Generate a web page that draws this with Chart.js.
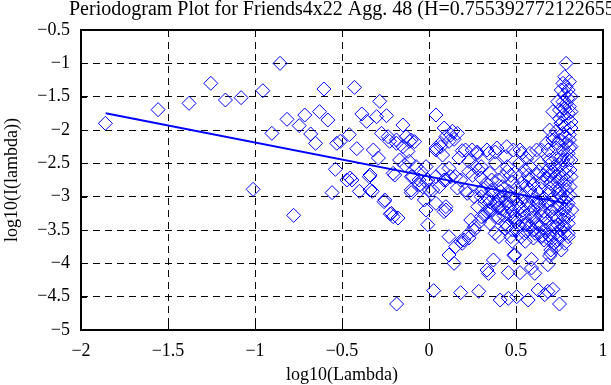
<!DOCTYPE html>
<html>
<head>
<meta charset="utf-8">
<script src="https://cdn.jsdelivr.net/npm/chart.js@4"></script>
<style>
  html, body { margin: 0; padding: 0; background: #fff; }
</style>
</head>
<body>
<canvas id="pgram" width="611" height="385"></canvas>
<script>
// periodogram points, log10(lambda) vs log10(I(lambda))
const logLambda = [
  -1.86, -1.557, -1.379, -1.254, -1.17, -1.08, -0.955, -0.856, -1.011, -0.903,
  -0.816, -0.778, -0.746, -0.714, -0.68, -0.652, -0.629, -0.604, -0.581, -0.557,
  -0.538, -0.53, -0.51, -0.458, -0.428, -0.415, -0.472, -0.453, -0.40, -0.386,
  -0.358, -0.343, -0.339, -0.326, -0.32, -0.301, -0.291, -0.283, -0.273, -0.258,
  -0.244, -0.235, -0.222, -0.216, -0.206, -0.206, -0.197, -0.187, -0.186, -0.178,
  -0.169, -0.15, -0.15, -0.14, -0.121, -0.114, -0.112, -0.102, -0.102, -0.074,
  -0.057, -0.036, -0.017, -0.017, -0.007, -0.007, 0.021, 0.027, 0.04, 0.04,
  0.04, 0.04, 0.068, 0.068, 0.078, 0.078, 0.087, 0.087, 0.087, 0.097,
  0.097, 0.097, 0.115, 0.115, 0.115, 0.115, 0.125, 0.135, 0.144, 0.144,
  0.153, 0.153, 0.163, 0.163, 0.182, 0.182, 0.182, 0.191, 0.191, 0.21,
  0.229, 0.229,
  // around the fit line, -0.3 .. 0.15
  -0.226, -0.187, -0.131, -0.102, -0.083, -0.045, -0.093, -0.055, -0.017, 0.002,
  0.04, 0.059, 0.097, 0.125, -0.102, -0.027, -0.254, -0.339, -0.443,
  // band near -2.3
  0.248, 0.277, 0.333, 0.381, 0.438, 0.485, 0.532, 0.561, 0.618, 0.267,
  0.286, 0.21, 0.277, 0.343, 0.39, 0.447, 0.523, 0.58, 0.172, 0.229,
  // upper right tail
  0.788, 0.77, 0.788, 0.807, 0.76, 0.778, 0.797, 0.816, 0.77, 0.74,
  0.712, 0.75, 0.778, 0.807, 0.816, 0.75, 0.797, 0.816, 0.76, 0.778,
  0.816, 0.693, 0.731, 0.769, 0.807, 0.712, 0.674, 0.712, 0.75, 0.788,
  0.807, 0.816, 0.646, 0.684, 0.731, 0.769, 0.807, 0.693, 0.731, 0.769,
  0.797, 0.816, 0.684, 0.712, 0.75, 0.788, 0.816, 0.70, 0.74, 0.78,
  0.81,
  0.78, 0.80, 0.79, 0.77, 0.80, 0.78, 0.80, 0.76, 0.79, 0.81,
  0.75, 0.79, 0.80, 0.78, 0.72, 0.74, 0.76,
  // dense core
  0.25, 0.30, 0.35, 0.40, 0.45, 0.48, 0.52, 0.55, 0.58, 0.62,
  0.65, 0.68, 0.33, 0.42, 0.50,
  0.22, 0.26, 0.30, 0.34, 0.37, 0.40, 0.43, 0.46, 0.49, 0.52,
  0.55, 0.58, 0.60, 0.63, 0.66, 0.69, 0.72, 0.75, 0.78, 0.81,
  0.28, 0.32, 0.36, 0.39, 0.42, 0.45, 0.48, 0.51, 0.54, 0.57,
  0.60, 0.63, 0.66, 0.69, 0.72, 0.75, 0.78, 0.80,
  0.24, 0.30, 0.35, 0.40, 0.44, 0.47, 0.50, 0.53, 0.56, 0.59,
  0.62, 0.65, 0.68, 0.71, 0.74, 0.77,
  0.26, 0.38, 0.50, 0.53, 0.56, 0.60, 0.63, 0.66, 0.69, 0.72,
  0.75, 0.78, 0.47, 0.44,
  0.20, 0.23, 0.26, 0.29, 0.32, 0.35, 0.38, 0.41,
  0.30, 0.35, 0.40, 0.45, 0.50, 0.55, 0.60, 0.65, 0.70, 0.73,
  0.72, 0.76, 0.80, 0.74, 0.78, 0.70, 0.76, 0.80, 0.82,
  0.31, 0.36, 0.41, 0.44, 0.47, 0.53, 0.56, 0.59, 0.62, 0.64,
  0.67, 0.70, 0.73, 0.76, 0.79,
  0.33, 0.38, 0.43, 0.46, 0.49, 0.52, 0.55, 0.58, 0.61, 0.64,
  0.67, 0.70, 0.73, 0.76, 0.79,
  0.45, 0.48, 0.52, 0.55, 0.58, 0.61, 0.64, 0.67, 0.70, 0.73,
  0.77, 0.80,
  0.36, 0.43, 0.47, 0.53, 0.57, 0.60, 0.63, 0.66, 0.70, 0.73,
  0.76, 0.79,
  0.30, 0.38, 0.45, 0.52, 0.58, 0.64, 0.70, 0.75,
  // lower scatter
  0.37, 0.333, 0.342, 0.456, 0.523, 0.49, 0.49, 0.589, 0.608, 0.589,
  0.693, 0.683, 0.70, 0.409, 0.456, 0.504, 0.57, 0.627, 0.683, 0.712,
  0.75, 0.665, 0.286, 0.402, 0.478, 0.553, 0.648, 0.693, 0.778
];
const logPgram = [
  -1.90, -1.695, -1.60, -1.30, -1.55, -1.515, -1.41, -1.0, -2.89, -2.05,
  -1.84, -3.28, -1.935, -1.775, -2.06, -2.20, -1.725, -1.385, -1.85, -2.94,
  -2.59, -2.20, -2.17, -2.07, -1.36, -2.28, -2.75, -2.72, -2.92, -1.76,
  -1.87, -2.70, -2.675, -2.92, -2.30, -1.80, -2.42, -1.57, -2.05, -3.075,
  -1.785, -2.10, -3.26, -3.25, -3.30, -2.65, -2.675, -2.20, -4.61, -3.32,
  -2.45, -1.925, -2.25, -2.525, -2.32, -2.47, -2.17, -2.94, -2.70, -2.55,
  -2.75, -2.85, -2.55, -3.20, -2.75, -3.42, -2.90, -4.41, -1.775, -3.10,
  -2.30, -2.27, -2.25, -2.20, -2.375, -2.60, -1.97, -2.75, -3.225, -2.10,
  -3.15, -3.20, -2.17, -2.575, -3.60, -3.875, -2.075, -2.02, -2.14, -4.0,
  -2.70, -3.75, -2.05, -2.87, -2.75, -4.44, -3.67, -2.31, -3.70, -2.90,
  -2.625, -3.62,
  -2.17, -2.15, -2.10, -2.15, -2.175, -2.625, -2.70, -2.825, -2.775, -2.90,
  -2.70, -2.85, -2.75, -2.70, -2.90, -3.05, -3.05, -2.90, -2.75,
  -2.30, -2.35, -2.30, -2.33, -2.40, -2.30, -2.35, -2.43, -2.30, -2.55,
  -2.60, -2.30, -2.33, -2.35, -2.27, -2.25, -2.30, -2.35, -2.42, -2.47,
  -1.0, -1.30, -1.35, -1.275, -1.40, -1.475, -1.525, -1.50, -1.575, -1.575,
  -1.725, -1.70, -1.675, -1.65, -1.725, -1.83, -1.83, -1.88, -1.90, -1.95,
  -1.97, -2.0, -2.02, -2.05, -2.07, -2.10, -2.20, -2.15, -2.15, -2.20,
  -2.15, -2.25, -2.30, -2.30, -2.27, -2.30, -2.27, -2.45, -2.43, -2.45,
  -2.45, -2.45, -2.60, -2.62, -2.65, -2.66, -2.70, -2.80, -2.78, -2.82,
  -2.85,
  -1.20, -1.40, -1.60, -1.78, -1.75, -2.10, -2.35, -2.40, -2.55, -2.60,
  -2.90, -3.00, -3.60, -3.45, -2.55, -2.20, -1.90,
  -2.68, -2.72, -2.65, -2.75, -2.62, -2.78, -2.70, -2.60, -2.75, -2.68,
  -2.78, -2.72, -2.80, -2.85, -2.88,
  -2.95, -3.0, -2.92, -3.02, -2.95, -3.05, -2.98, -2.92, -3.03, -2.95,
  -3.0, -2.90, -3.05, -2.95, -3.02, -2.93, -3.0, -2.95, -3.05, -2.98,
  -3.15, -3.10, -3.20, -3.12, -3.18, -3.10, -3.22, -3.12, -3.20, -3.10,
  -3.18, -3.12, -3.22, -3.10, -3.18, -3.12, -3.20, -3.10,
  -3.35, -3.30, -3.40, -3.32, -3.40, -3.30, -3.38, -3.28, -3.42, -3.32,
  -3.40, -3.30, -3.38, -3.30, -3.42, -3.35,
  -3.50, -3.55, -3.50, -3.60, -3.52, -3.62, -3.55, -3.65, -3.58, -3.70,
  -3.60, -3.55, -3.60, -3.48,
  -3.65, -3.55, -3.45, -3.38, -3.28, -3.20, -3.10, -3.02,
  -3.0, -3.08, -3.17, -3.25, -3.33, -3.42, -3.50, -3.58, -3.67, -3.75,
  -3.45, -3.50, -3.40, -3.65, -3.70, -3.80, -3.80, -3.30, -3.20,
  -2.88, -2.90, -2.92, -3.05, -3.00, -3.07, -2.85, -2.98, -3.08, -2.88,
  -3.10, -3.05, -2.88, -3.00, -2.90,
  -3.22, -3.30, -3.28, -3.15, -3.30, -3.18, -3.30, -3.25, -3.30, -3.20,
  -3.32, -3.22, -3.30, -3.25, -3.15,
  -3.45, -3.50, -3.45, -3.55, -3.45, -3.55, -3.45, -3.50, -3.45, -3.55,
  -3.45, -3.55,
  -2.75, -2.70, -2.68, -2.80, -2.68, -2.82, -2.62, -2.68, -2.68, -2.70,
  -2.72, -2.75,
  -2.55, -2.50, -2.55, -2.50, -2.55, -2.50, -2.50, -2.52,
  -3.95, -4.10, -4.15, -4.14, -4.14, -3.885, -3.87, -3.94, -4.15, -4.07,
  -3.89, -4.02, -3.85, -4.55, -4.525, -4.50, -4.55, -4.40, -4.42, -4.39,
  -4.61, -4.47, -4.42, -3.60, -3.67, -3.67, -3.60, -3.60, -3.30
];

// least squares fit line end points
const fitX = [-1.858, 0.8];
const fitY = [-1.75, -3.108];

const xTicks = [-2, -1.5, -1, -0.5, 0, 0.5, 1];
const yTicks = [-5, -4.5, -4, -3.5, -3, -2.5, -2, -1.5, -1, -0.5];

const titleText = 'Periodogram Plot for Friends4x22 Agg. 48 (H=0.755392772122655)';
const SERIF = "'Liberation Serif', 'Times New Roman', serif";

function fmt(v) {
  return v < 0 ? '\u2212' + String(-v) : String(v);
}

// box, inward ticks on all 4 sides, and the title
const framePlugin = {
  id: 'frame',
  afterDatasetsDraw(chart) {
    const ctx = chart.ctx;
    const a = chart.chartArea;
    const xs = chart.scales.x, ys = chart.scales.y;
    ctx.save();
    ctx.strokeStyle = '#000';
    ctx.lineWidth = 1;
    ctx.beginPath();
    xTicks.forEach(t => {
      const px = Math.round(xs.getPixelForValue(t)) + 0.5;
      ctx.moveTo(px, a.bottom); ctx.lineTo(px, a.bottom - 6);
      ctx.moveTo(px, a.top); ctx.lineTo(px, a.top + 6);
    });
    yTicks.forEach(t => {
      const py = Math.round(ys.getPixelForValue(t)) + 0.5;
      ctx.moveTo(a.left, py); ctx.lineTo(a.left + 6, py);
      ctx.moveTo(a.right, py); ctx.lineTo(a.right - 6, py);
    });
    ctx.stroke();
    ctx.lineWidth = 2;
    ctx.strokeRect(a.left, a.top, a.right - a.left, a.bottom - a.top);
    ctx.restore();
  },
  afterDraw(chart) {
    const ctx = chart.ctx;
    ctx.save();
    ctx.fillStyle = '#000';
    ctx.font = '20px ' + SERIF;
    ctx.textAlign = 'left';
    ctx.textBaseline = 'alphabetic';
    ctx.fillText(titleText, 69, 15);
    ctx.restore();
  }
};

const pts = logLambda.map((x, i) => ({ x: x, y: logPgram[i] }));
const fitPts = fitX.map((x, i) => ({ x: x, y: fitY[i] }));

new Chart(document.getElementById('pgram'), {
  type: 'scatter',
  data: {
    datasets: [
      {
        data: pts,
        pointStyle: 'rectRot',
        pointRadius: 7,
        pointHoverRadius: 7,
        borderColor: '#0000ff',
        backgroundColor: 'rgba(0,0,0,0)',
        borderWidth: 1
      },
      {
        data: fitPts,
        showLine: true,
        pointRadius: 0,
        borderColor: '#0000ff',
        borderWidth: 2
      }
    ]
  },
  options: {
    responsive: false,
    animation: false,
    layout: { padding: { top: 30, right: 2, left: 0, bottom: 0 } },
    plugins: { legend: { display: false }, tooltip: { enabled: false } },
    scales: {
      x: {
        type: 'linear', min: -2, max: 1,
        afterBuildTicks: s => { s.ticks = xTicks.map(v => ({ value: v })); },
        afterFit: s => { s.height = 55; s.paddingLeft = 0; s.paddingRight = 0; },
        grid: { color: '#000', lineWidth: 1, drawTicks: false },
        border: { display: false, dash: [7, 5] },
        ticks: { color: '#000', padding: 10, autoSkip: false, font: { family: SERIF, size: 18 }, callback: v => fmt(v), maxRotation: 0 },
        title: { display: true, text: 'log10(Lambda)', color: '#000', font: { family: SERIF, size: 18 }, padding: { top: 0, bottom: -1 } }
      },
      y: {
        type: 'linear', min: -5, max: -0.5,
        afterBuildTicks: s => { s.ticks = yTicks.map(v => ({ value: v })); },
        afterFit: s => { s.width = 81; s.paddingTop = 0; s.paddingBottom = 0; },
        grid: { color: '#000', lineWidth: 1, drawTicks: false },
        border: { display: false, dash: [7, 5] },
        ticks: { color: '#000', padding: 11, autoSkip: false, font: { family: SERIF, size: 18 }, callback: v => fmt(v) },
        title: { display: true, text: 'log10(I(lambda))', color: '#000', font: { family: SERIF, size: 18 }, padding: { top: 1, bottom: 0 } }
      }
    }
  },
  plugins: [framePlugin]
});
</script>
</body>
</html>
